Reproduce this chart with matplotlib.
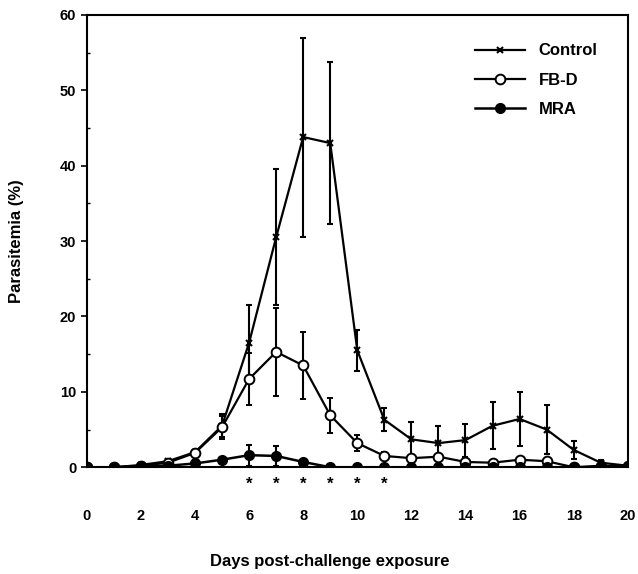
import matplotlib
matplotlib.use("Agg")
import matplotlib.pyplot as plt
from matplotlib.ticker import MultipleLocator
from matplotlib.lines import Line2D

plt.rcParams['font.family'] = ['Liberation Sans', 'DejaVu Sans']
plt.rcParams['font.weight'] = 'bold'

days = list(range(0, 21))

control = [0, 0, 0.3, 0.8, 2.0, 5.5, 16.5, 30.5, 43.8, 43.0, 15.5, 6.3, 3.7, 3.2, 3.6, 5.5, 6.4, 5.0, 2.3, 0.6, 0.2]
control_err = [0, 0, 0, 0, 0, 1.5, 5.0, 9.0, 13.2, 10.7, 2.7, 1.5, 2.3, 2.3, 2.2, 3.1, 3.6, 3.2, 1.2, 0.3, 0]

fbd = [0, 0, 0.2, 0.6, 1.9, 5.3, 11.7, 15.3, 13.5, 6.9, 3.2, 1.5, 1.2, 1.4, 0.7, 0.6, 1.0, 0.8, 0.0, 0.2, 0.1]
fbd_err = [0, 0, 0, 0, 0, 1.5, 3.5, 5.8, 4.4, 2.3, 1.1, 0.5, 0, 0, 0, 0, 0, 0, 0, 0, 0]

mra = [0, 0, 0.1, 0.2, 0.5, 1.0, 1.6, 1.5, 0.7, 0, 0, 0, 0, 0, 0, 0, 0, 0, 0, 0, 0]
mra_err = [0, 0, 0, 0, 0, 0, 1.4, 1.3, 0, 0, 0, 0, 0, 0, 0, 0, 0, 0, 0, 0, 0]

signif_days = [6, 7, 8, 9, 10, 11]

fig = plt.figure(figsize=(6.38, 5.74), dpi=100)
ax = fig.add_axes([0.136, 0.186, 0.848, 0.788])

ax.errorbar(days, control, yerr=control_err, color='black', lw=1.6, marker='x',
            ms=4, mew=1.5, elinewidth=1.5, capsize=2.5, capthick=1.5)
ax.errorbar(days, fbd, yerr=fbd_err, color='black', lw=1.6, marker='o', ms=7,
            mfc='white', mec='black', mew=1.4, elinewidth=1.5, capsize=2.5,
            capthick=1.5)
ax.errorbar(days, mra, yerr=mra_err, color='black', lw=1.8, marker='o', ms=7,
            mfc='black', mec='black', elinewidth=1.5, capsize=2.5, capthick=1.5)

for d in signif_days:
    ax.text(d, -2.3, '*', ha='center', va='center', fontsize=12, clip_on=False)

ax.set_xlim(0, 20)
ax.set_ylim(0, 60)
ax.set_xticks(range(0, 21, 2))
ax.set_yticks(range(0, 61, 10))
ax.yaxis.set_minor_locator(MultipleLocator(5))
ax.tick_params(axis='x', length=0, pad=30, labelsize=10.5)
ax.tick_params(axis='y', which='major', direction='out', length=4, width=1.2, labelsize=10.5)
ax.tick_params(axis='y', which='minor', direction='in', length=2, width=1)
for lab in ax.get_xticklabels() + ax.get_yticklabels():
    lab.set_fontweight('bold')
for s in ax.spines.values():
    s.set_linewidth(1.5)

ax.set_ylabel('Parasitemia (%)', fontsize=12, fontweight='bold', labelpad=26)
fig.text(0.517, 0.022, 'Days post-challenge exposure', ha='center', va='center',
         fontsize=12, fontweight='bold')

handles = [
    Line2D([], [], color='black', lw=1.6, marker='x', ms=4, mew=1.5),
    Line2D([], [], color='black', lw=1.6, marker='o', ms=7, mfc='white', mew=1.4),
    Line2D([], [], color='black', lw=1.8, marker='o', ms=7, mfc='black'),
]
leg = ax.legend(handles, ['Control', 'FB-D', 'MRA'], loc='upper left', frameon=False,
                fontsize=12, handlelength=3.0, labelspacing=0.85,
                bbox_to_anchor=(0.69, 0.97))
for t in leg.get_texts():
    t.set_fontweight('bold')

fig.savefig('out.png', dpi=100)
